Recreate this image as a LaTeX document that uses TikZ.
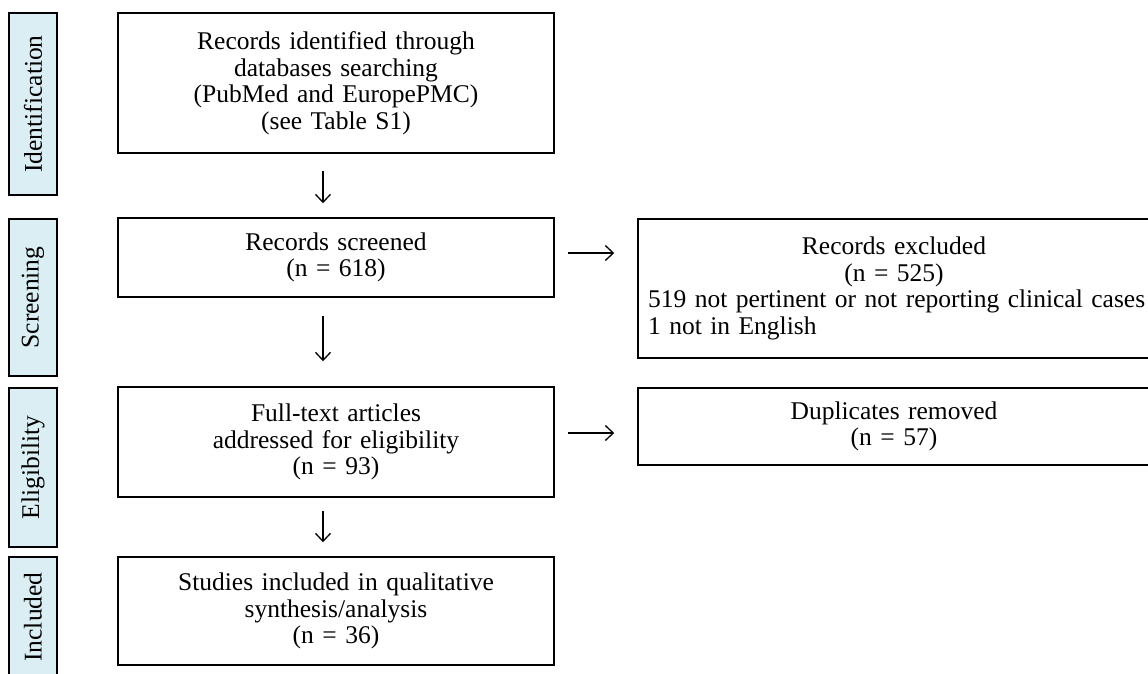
\documentclass[tikz,border=0pt]{standalone}
\usepackage{fontspec}
\setmainfont{Liberation Serif}
\usetikzlibrary{arrows.meta,positioning,calc}

\definecolor{phasefill}{HTML}{DAEEF3}
\newcommand{\prismafont}{\fontsize{25.5pt}{26.5pt}\selectfont}

\begin{document}
\begin{tikzpicture}[
    x=1pt, y=-1pt,
    phase/.style={
        rectangle,
        draw=black,
        line width=1.5pt,
        fill=phasefill,
        rotate=90,
        minimum height=48pt,
        inner sep=0pt,
        font=\prismafont
    },
    stepbox/.style={
        rectangle,
        draw=black,
        line width=1.5pt,
        minimum width=436pt,
        text width=416pt,
        align=center,
        inner sep=0pt,
        font=\prismafont
    },
    sidebox/.style={
        rectangle,
        draw=black,
        line width=1.5pt,
        minimum width=512pt,
        text width=492pt,
        align=center,
        inner sep=0pt,
        font=\prismafont
    },
    flow/.style={draw=black, line width=1.3pt, -{Straight Barb[length=8pt,width=15pt]}}
]
\useasboundingbox (0,0) rectangle (1148,673);

% Phase labels
\node [phase, minimum width=182pt] (idlabel) at (33,104) {Identification};
\node [phase, minimum width=157pt] (scrlabel) at (33,297.5) {Screening};
\node [phase, minimum width=159pt] (eliglabel) at (33,467.5) {Eligibility};
\node [phase, minimum width=120pt] (inclabel) at (33,617) {Included};

% Main flow
\node [stepbox, minimum height=140pt] (records) at (336,83) {Records identified through\\
    databases searching\\
    (PubMed and EuropePMC)\\
    (see Table S1)};
\node [stepbox, minimum height=79pt] (screened) at (336,257.5) {Records screened\\
    (n = 618)};
\node [stepbox, minimum height=110pt] (fulltext) at (336,442) {Full-text articles\\
    addressed for eligibility\\
    (n = 93)};
\node [stepbox, minimum height=108pt] (included) at (336,611) {Studies included in qualitative\\
    synthesis/analysis\\
    (n = 36)};

% Exclusions
\node [sidebox, minimum height=139pt] (excluded) at (894,288.5) {Records excluded\\
    (n = 525)\\
    \makebox[\linewidth][l]{519 not pertinent or not reporting clinical cases}\\
    \makebox[\linewidth][l]{1 not in English}};
\node [sidebox, minimum height=77pt] (duplicates) at (894,426.5) {Duplicates removed\\
    (n = 57)};

% Connections
\draw [flow, shorten <=17pt, shorten >=14pt] ([xshift=-13pt]records.south) -- ([xshift=-13pt]screened.north);
\draw [flow, shorten <=18pt, shorten >=25pt] ([xshift=-13pt]screened.south) -- ([xshift=-13pt]fulltext.north);
\draw [flow, shorten <=13pt, shorten >=14pt] ([xshift=-13pt]fulltext.south) -- ([xshift=-13pt]included.north);
\draw [flow, shorten <=13pt, shorten >=23pt] ([yshift=4.5pt]screened.east) -- ([yshift=4.5pt]screened.east -| excluded.west);
\draw [flow, shorten <=13pt, shorten >=23pt] ([yshift=9pt]fulltext.east) -- ([yshift=9pt]fulltext.east -| duplicates.west);

\end{tikzpicture}
\end{document}
